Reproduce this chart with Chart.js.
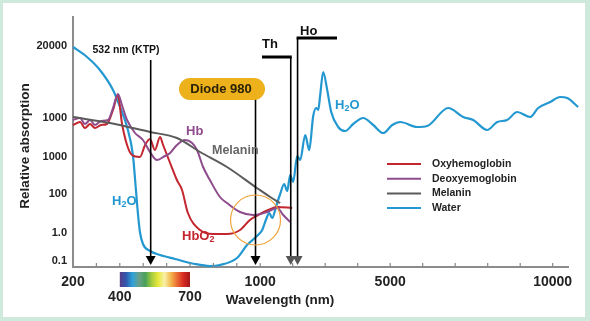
<!DOCTYPE html>
<html>
<head>
<meta charset="utf-8">
<script src="https://cdn.jsdelivr.net/npm/chart.js@4"></script>
<style>
  html, body { margin: 0; padding: 0; background: #fff; }
  #wrap { width: 590px; height: 321px; }
</style>
</head>
<body>
<div id="wrap"><canvas id="chart" width="590" height="321"></canvas></div>
<script>
// wavelength (nm) and relative absorption level
var waterNm  = [200, 260, 315, 371, 401, 431, 456, 469, 478, 486, 499, 529, 572, 636, 721, 785, 828, 901, 944, 986,
                1062, 1185, 1277, 1369, 1492, 1615, 1738, 1831, 1923, 2015, 2138, 2231, 2385, 2508, 2631, 2723, 2785,
                2846, 2938, 3062, 3185, 3400, 3615, 3862, 4169, 4477, 4785, 5062, 5308, 5831, 6138, 6785, 7246, 7554,
                7985, 8292, 8600, 8908, 9308, 9554, 9923, 10231, 10446, 10785];
var waterAbs = [220, 210, 197, 177, 160, 140, 112, 77, 52, 35, 23, 16, 12, 8, 3, 1, 2, 9, 22, 31,
                37, 48, 54, 49, 61, 73, 83, 76, 92, 85, 111, 107, 132, 117, 151, 159, 157,
                172, 195, 177, 155, 140, 136, 143, 149, 142, 134, 142, 145, 140, 141, 159, 150, 147,
                137, 145, 147, 155, 150, 159, 165, 170, 169, 160];

var oxyNm  = [200, 230, 251, 273, 294, 320, 345, 371, 392, 409, 431, 452, 486, 508, 529, 550, 572, 585, 615, 644,
              666, 691, 743, 798, 858, 914, 956, 991, 1246, 1523, 1985];
var oxyAbs = [142, 145, 139, 143, 139, 142, 143, 157, 172, 144, 122, 112, 110, 122, 128, 117, 130, 122, 104, 87,
              77, 54, 37, 33, 33, 37, 47, 52, 57, 60, 59];

var deoxyNm  = [200, 230, 251, 273, 294, 320, 350, 371, 392, 409, 431, 465, 499, 529, 559, 593, 615, 644, 679, 709,
                730, 756, 785, 828, 858, 914, 970, 1215, 1523, 1708, 1923];
var deoxyAbs = [147, 149, 143, 147, 142, 146, 147, 159, 173, 162, 147, 134, 127, 115, 107, 111, 114, 122, 127, 124,
                117, 100, 87, 70, 64, 55, 52, 55, 59, 52, 45];

var melaninNm  = [200, 358, 529, 644, 743, 858, 986, 1308, 1615];
var melaninAbs = [150, 144, 135, 129, 115, 100, 79, 70, 64];

var yTickLevels = [6, 34, 73, 110, 149, 221];
var yTickLabels = ['0.1', '1.0', '100', '1000', '1000', '20000'];
var xTickNm     = [200, 300, 400, 500, 600, 700, 800, 900, 1000, 2000, 3000, 4000, 5000, 6000, 7000, 8000, 9000, 10000];
var xLabelNm    = [200, 1000, 5000, 10000];

var seriesNames  = ['Oxyhemoglobin', 'Deoxyemoglobin', 'Melanin', 'Water'];
var seriesColors = ['#c3262e', '#8e4c8c', '#5b5b5b', '#2398d0'];

var laserNm = { ktp: 532, diode: 980, th: 1940, ho: 2150 };

// the axis is stretched below 1000 nm and compressed above it
function toU(nm) {
  return nm <= 1000 ? (nm - 200) * 0.234 : 187.2 + (nm - 1000) * 0.0325;
}
function pts(xs, ys) {
  return xs.map(function (l, i) { return { x: toU(l), y: ys[i] }; });
}

var FONT = '"Liberation Sans", Arial, sans-serif';

function arrow(ctx, x, y0, y1, head) {
  ctx.strokeStyle = '#000';
  ctx.lineWidth = 1.6;
  ctx.beginPath(); ctx.moveTo(x, y0); ctx.lineTo(x, y1 - 6); ctx.stroke();
  ctx.fillStyle = head || '#000';
  ctx.beginPath();
  ctx.moveTo(x - 5, y1 - 9); ctx.lineTo(x + 5, y1 - 9); ctx.lineTo(x, y1); ctx.closePath();
  ctx.fill();
}

function chemLabel(ctx, x, y, a, sub, b, color) {
  ctx.fillStyle = color;
  ctx.font = 'bold 13px ' + FONT;
  ctx.textAlign = 'left';
  ctx.textBaseline = 'middle';
  ctx.fillText(a, x, y);
  var w = ctx.measureText(a).width;
  ctx.font = 'bold 9px ' + FONT;
  ctx.fillText(sub, x + w, y + 4);
  var w2 = ctx.measureText(sub).width;
  if (b) {
    ctx.font = 'bold 13px ' + FONT;
    ctx.fillText(b, x + w + w2, y);
  }
}

var deco = {
  id: 'deco',
  beforeDraw: function (chart) {
    var ctx = chart.ctx;
    ctx.save();
    ctx.fillStyle = '#cfe9dc';
    ctx.fillRect(0, 0, chart.width, chart.height);
    ctx.fillStyle = '#fff';
    ctx.fillRect(3, 3, 582, 314);
    ctx.restore();
  },
  afterDraw: function (chart) {
    var ctx = chart.ctx, xs = chart.scales.x, ys = chart.scales.y;
    var bottom = chart.chartArea.bottom;
    ctx.save();

    // small tick marks on top of the x axis
    ctx.strokeStyle = '#888';
    ctx.lineWidth = 1.2;
    xTickNm.forEach(function (l) {
      if (l === 200) return;
      var px = xs.getPixelForValue(toU(l));
      ctx.beginPath(); ctx.moveTo(px, bottom); ctx.lineTo(px, bottom - 4); ctx.stroke();
    });

    // visible spectrum bar under the axis
    var x400 = xs.getPixelForValue(toU(400)), x700 = xs.getPixelForValue(toU(700));
    var g = ctx.createLinearGradient(x400, 0, x700, 0);
    var stops = ['#5b3a88', '#2f58ad', '#2ea3d8', '#6aa08a', '#47a05a', '#a6cc3c', '#e8e83a',
                 '#f7f0a8', '#f3b64c', '#ea6a32', '#d62a22', '#a3171a'];
    stops.forEach(function (c, i) { g.addColorStop(i / (stops.length - 1), c); });
    ctx.fillStyle = g;
    ctx.fillRect(x400, bottom + 5, x700 - x400, 15);
    ctx.fillStyle = '#222';
    ctx.font = 'bold 14px ' + FONT;
    ctx.textAlign = 'center';
    ctx.textBaseline = 'middle';
    ctx.fillText('400', x400, bottom + 30);
    ctx.fillText('700', x700, bottom + 30);

    // axis titles
    ctx.font = 'bold 13.5px ' + FONT;
    ctx.fillText('Wavelength (nm)', 280, 300);
    ctx.save();
    ctx.translate(25, 146);
    ctx.rotate(-Math.PI / 2);
    ctx.fillText('Relative absorption', 0, 0);
    ctx.restore();

    // KTP laser
    var xk = xs.getPixelForValue(toU(laserNm.ktp));
    arrow(ctx, xk, 60, bottom - 2);
    ctx.fillStyle = '#111';
    ctx.font = 'bold 10.5px ' + FONT;
    ctx.textAlign = 'center';
    ctx.fillText('532 nm (KTP)', 126, 50);

    // diode 980
    var xd = xs.getPixelForValue(toU(laserNm.diode));
    arrow(ctx, xd, 98, bottom - 2);
    ctx.fillStyle = '#ecb11b';
    ctx.beginPath();
    if (ctx.roundRect) ctx.roundRect(179, 78, 86, 22, 11); else ctx.rect(179, 78, 86, 22);
    ctx.fill();
    ctx.fillStyle = '#2b2208';
    ctx.font = 'bold 13px ' + FONT;
    ctx.fillText('Diode 980', 221, 89.5);

    // thulium and holmium brackets
    var xt = xs.getPixelForValue(toU(laserNm.th));
    var xh = xs.getPixelForValue(toU(laserNm.ho));
    arrow(ctx, xt, 57, bottom - 2, '#555');
    arrow(ctx, xh, 38, bottom - 2, '#555');
    ctx.lineWidth = 3;
    ctx.strokeStyle = '#000';
    ctx.beginPath(); ctx.moveTo(262, 57); ctx.lineTo(xt + 1, 57); ctx.stroke();
    ctx.beginPath(); ctx.moveTo(xh - 1, 38); ctx.lineTo(337, 38); ctx.stroke();
    ctx.fillStyle = '#111';
    ctx.font = 'bold 13px ' + FONT;
    ctx.textAlign = 'left';
    ctx.fillText('Th', 262, 44);
    ctx.fillText('Ho', 300, 31);

    // orange circle around the diode window
    ctx.strokeStyle = '#f0a43c';
    ctx.lineWidth = 1.2;
    ctx.beginPath();
    ctx.arc(xd, ys.getPixelForValue(47), 25, 0, Math.PI * 2);
    ctx.stroke();

    // curve labels
    chemLabel(ctx, 112, 201, 'H', '2', 'O', seriesColors[3]);
    chemLabel(ctx, 335, 105, 'H', '2', 'O', seriesColors[3]);
    chemLabel(ctx, 182, 236, 'HbO', '2', '', seriesColors[0]);
    ctx.font = 'bold 13px ' + FONT;
    ctx.fillStyle = seriesColors[1];
    ctx.fillText('Hb', 186, 131);
    ctx.font = 'bold 12.5px ' + FONT;
    ctx.fillStyle = '#666';
    ctx.fillText('Melanin', 212, 151);

    // legend
    ctx.font = 'bold 10.5px ' + FONT;
    ctx.lineWidth = 2;
    seriesNames.forEach(function (n, i) {
      var yy = 164 + i * 14.7;
      ctx.strokeStyle = seriesColors[i];
      ctx.beginPath(); ctx.moveTo(387, yy); ctx.lineTo(421, yy); ctx.stroke();
      ctx.fillStyle = '#222';
      ctx.fillText(n, 432, yy);
    });

    ctx.restore();
  }
};

function line(name, xs, ys, color, w) {
  return {
    label: name,
    data: pts(xs, ys),
    borderColor: color,
    borderWidth: w,
    pointRadius: 0,
    cubicInterpolationMode: 'monotone',
    fill: false,
    clip: false
  };
}

new Chart(document.getElementById('chart'), {
  type: 'line',
  data: {
    datasets: [
      line(seriesNames[2], melaninNm, melaninAbs, seriesColors[2], 2),
      line(seriesNames[1], deoxyNm, deoxyAbs, seriesColors[1], 2),
      line(seriesNames[0], oxyNm, oxyAbs, seriesColors[0], 2),
      line(seriesNames[3], waterNm, waterAbs, seriesColors[3], 2.2)
    ]
  },
  options: {
    responsive: false,
    animation: false,
    events: [],
    layout: { padding: { top: 17, right: 22, bottom: 0, left: 0 } },
    plugins: { legend: { display: false }, tooltip: { enabled: false } },
    scales: {
      x: {
        type: 'linear',
        min: 0,
        max: toU(10471),
        afterFit: function (s) { s.height = 54; },
        afterBuildTicks: function (s) {
          s.ticks = xTickNm.map(function (l) { return { value: toU(l), nm: l }; });
        },
        grid: { display: false, drawTicks: false },
        border: { display: true, color: '#8c8c8c', width: 2 },
        ticks: {
          autoSkip: false,
          maxRotation: 0,
          padding: 7,
          color: '#222',
          font: { family: FONT, size: 14, weight: 'bold' },
          callback: function (v, i) {
            var l = xTickNm[i];
            return xLabelNm.indexOf(l) >= 0 ? String(l) : '';
          }
        }
      },
      y: {
        type: 'linear',
        min: 0,
        max: 250,
        afterFit: function (s) { s.width = 73; },
        afterBuildTicks: function (s) {
          s.ticks = yTickLevels.map(function (v) { return { value: v }; });
        },
        grid: { display: false, drawTicks: false },
        border: { display: true, color: '#8c8c8c', width: 2 },
        ticks: {
          padding: 6,
          color: '#222',
          font: { family: FONT, size: 11, weight: 'bold' },
          callback: function (v, i) { return yTickLabels[i]; }
        }
      }
    }
  },
  plugins: [deco]
});
</script>
</body>
</html>
